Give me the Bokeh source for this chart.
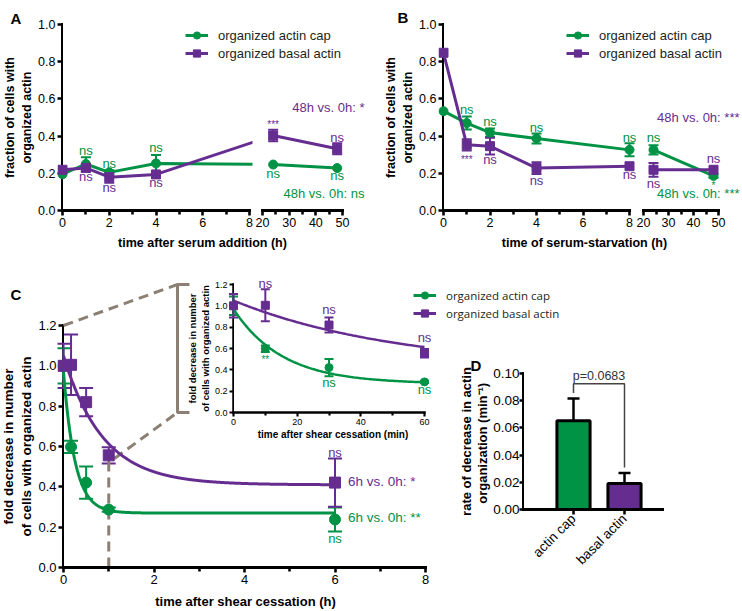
import math
import numpy as np
from bokeh.plotting import figure
from bokeh.layouts import column
from bokeh.models import (Range1d, FixedTicker, NumeralTickFormatter, Whisker, TeeHead,
                          ColumnDataSource, Legend, LegendItem)
from bokeh.embed import file_html
from bokeh.resources import INLINE
from bokeh.core.properties import value

FONT = "Liberation Sans"
LEG_FONT_C = "Open Sans"
GREEN = "#009245"
PURPLE = "#662d91"
GRAY = "#8b8073"

# ---------------- data ----------------
SERIES = ["organized actin cap", "organized basal actin"]

A_TIME = [0, 1, 2, 4, 24, 48]
A_CAP = [0.195, 0.250, 0.205, 0.253, 0.247, 0.228]
A_CAP_ERR = [0.0, 0.036, 0.012, 0.045, 0.0, 0.0]
A_BASAL = [0.219, 0.229, 0.179, 0.194, 0.403, 0.332]
A_BASAL_ERR = [0.0, 0.020, 0.030, 0.015, 0.031, 0.030]
A_CAP_MARKS = [(1, 0.323, "ns"), (2, 0.253, "ns"), (4, 0.339, "ns"), (24, 0.199, "ns"), (48, 0.188, "ns")]
A_BASAL_MARKS = [(1, 0.183, "ns"), (2, 0.122, "ns"), (4, 0.150, "ns"), (24, 0.462, "***"), (48, 0.393, "ns")]
A_SUMMARY = ["48h vs. 0h: ns", "48h vs. 0h: *"]
A_SUMMARY_Y = [0.091, 0.554]
A_X_TITLE = "time after serum addition (h)"

B_TIME = [0, 1, 2, 4, 8, 24, 48]
B_CAP = [0.534, 0.470, 0.419, 0.387, 0.326, 0.326, 0.186]
B_CAP_ERR = [0.0, 0.035, 0.022, 0.027, 0.035, 0.025, 0.010]
B_BASAL = [0.848, 0.353, 0.346, 0.228, 0.238, 0.219, 0.219]
B_BASAL_ERR = [0.0, 0.030, 0.045, 0.032, 0.0, 0.037, 0.0]
B_CAP_MARKS = [(1, 0.541, "ns"), (2, 0.480, "ns"), (4, 0.448, "ns"), (8, 0.391, "ns"), (24, 0.391, "ns"), (48, 0.135, "*")]
B_BASAL_MARKS = [(1, 0.275, "***"), (2, 0.272, "ns"), (4, 0.161, "ns"), (8, 0.194, "ns"), (24, 0.147, "ns"), (48, 0.278, "ns")]
B_SUMMARY = ["48h vs. 0h: ***", "48h vs. 0h: ***"]
B_SUMMARY_Y = [0.093, 0.502]
B_X_TITLE = "time of serum-starvation (h)"

FRACTION_TICKS = [0.0, 0.2, 0.4, 0.6, 0.8, 1.0]
EARLY_TICKS = [0, 2, 4, 6, 8]
EARLY_MINOR = [1, 3, 5, 7]
LATE_TICKS = [20, 30, 40, 50]
LATE_MINOR = [25, 35, 45]
Y_TITLE_AB = "fraction of cells with\norganized actin"

C_TIME_MIN = [0, 10, 30, 60, 360]
C_CAP = [1.0, 0.598, 0.421, 0.287, 0.238]
C_CAP_ERR = [0.087, 0.030, 0.080, 0.010, 0.060]
C_BASAL = [1.0, 1.005, 0.820, 0.556, 0.421]
C_BASAL_ERR = [0.110, 0.150, 0.070, 0.040, 0.120]
C_FIT_Y0 = [0.97, 1.05]
C_FIT_PLATEAU = [0.27, 0.41]
C_MAIN_MARKS = [[(6, 0.144, "ns")], [(6, 0.568, "ns")]]
C_SUMMARY = ["6h vs. 0h: **", "6h vs. 0h: *"]
C_SUMMARY_Y = [0.248, 0.424]
C_INSET_MARKS = [[(10, 0.50, "**"), (30, 0.282, "ns"), (60, 0.22, "ns")],
                 [(10, 1.21, "ns"), (30, 0.962, "ns"), (60, 0.699, "ns")]]
C_TICKS = [0.0, 0.2, 0.4, 0.6, 0.8, 1.0, 1.2]
C_X_TICKS = [0, 2, 4, 6, 8]
C_X_MINOR = [1, 3, 5, 7]
C_INSET_X_TICKS = [0, 20, 40, 60]
C_INSET_X_MINOR = [10, 30, 50]
C_Y_TITLE = "fold decrease in number\nof cells with organized actin"
C_X_TITLE = "time after shear cessation (h)"
C_INSET_X_TITLE = "time after shear cessation (min)"
C_ZOOM_END_H = 1.0
C_ZOOM_TOP = 1.2
C_ZOOM_KNEE = 0.52

D_CATEGORIES = ["actin cap", "basal actin"]
D_RATE = [0.0652, 0.0191]
D_RATE_ERR = [0.0164, 0.0078]
D_P_TEXT = "p=0.0683"
D_TICKS = [0.0, 0.02, 0.04, 0.06, 0.08, 0.10]
D_Y_TITLE = "rate of decrease in actin\norganization  (min\u207b\u00b9)"
D_BRACKET_Y = 0.0925
D_BRACKET_GAP = 0.004

PANEL_LETTERS = ["A", "B", "C", "D"]

COLORS = [GREEN, PURPLE]
MARKERS = ["circle", "square"]


# ---------------- helpers ----------------
def px_to_val(px, m):
    v1, p1, v2, p2 = m
    return v1 + (px - p1) * (v2 - v1) / (p2 - p1)


def val_to_px(v, m):
    v1, p1, v2, p2 = m
    return p1 + (v - v1) * (p2 - p1) / (v2 - v1)


PLACED = []


def make_fig(frame, canvas, xmap, ymap, x_axis=True, y_axis=False):
    fl, ft, fr, fb = frame
    cl, ct, cr, cb = canvas
    p = figure(width=cr - cl, height=cb - ct,
               x_range=Range1d(px_to_val(fl, xmap), px_to_val(fr, xmap)),
               y_range=Range1d(px_to_val(fb, ymap), px_to_val(ft, ymap)),
               min_border_left=fl - cl, min_border_right=cr - fr,
               min_border_top=ft - ct, min_border_bottom=cb - fb,
               x_axis_location="below" if x_axis else None,
               y_axis_location="left" if y_axis else None,
               frame_align=False,
               title=None, output_backend="svg", toolbar_location=None)
    p.background_fill_color = None
    p.border_fill_color = None
    p.outline_line_color = None
    p.grid.visible = False
    p.styles = {"position": "absolute", "left": "%dpx" % cl, "top": "%dpx" % ct}
    PLACED.append(p)
    return p


def style_axes(p, tick_size, title_size, lw=3.0, tick_out=5, minor_out=4):
    for ax in p.axis:
        ax.axis_line_width = lw
        ax.axis_line_color = "black"
        ax.axis_line_cap = "square"
        ax.major_tick_line_width = lw * 0.85
        ax.minor_tick_line_width = lw * 0.85
        ax.major_tick_line_color = "black"
        ax.minor_tick_line_color = "black"
        ax.major_tick_out = tick_out
        ax.major_tick_in = 0
        ax.minor_tick_out = minor_out
        ax.minor_tick_in = 0
        ax.major_label_text_font = FONT
        ax.major_label_text_font_size = tick_size
        ax.major_label_text_color = "black"
        ax.major_label_standoff = 2
        ax.axis_label_text_font = FONT
        ax.axis_label_text_font_style = "bold"
        ax.axis_label_text_font_size = title_size
        ax.axis_label_text_color = "black"
        ax.axis_label_standoff = 1


def y_axis_fig(axis_px, top_px, bottom_px, ymap, border, canvas_top, canvas_bottom, ticks, fmt, title,
               tick_size, title_size, lw=3.0, tick_out=5, line_height=1.2, label_standoff=2, title_standoff=1):
    p = make_fig((axis_px, top_px, axis_px + 1, bottom_px), (axis_px - border, canvas_top, axis_px + 1, canvas_bottom),
                 (0, axis_px, 1, axis_px + 1), ymap, x_axis=False, y_axis=True)
    style_axes(p, tick_size, title_size, lw=lw, tick_out=tick_out)
    p.yaxis.ticker = FixedTicker(ticks=ticks, minor_ticks=[])
    p.yaxis.formatter = NumeralTickFormatter(format=fmt)
    p.yaxis.axis_label = title
    p.yaxis.axis_label_text_line_height = line_height
    p.yaxis.major_label_standoff = label_standoff
    p.yaxis.axis_label_standoff = title_standoff
    return p


def add_err(p, xs, ys, es, color, cap, lw, upper_only=False):
    sel = [(x, y, e) for x, y, e in zip(xs, ys, es) if e > 0]
    if not sel:
        return
    src = ColumnDataSource(dict(
        x=[s[0] for s in sel],
        lo=[s[1] - (0 if upper_only else s[2]) for s in sel],
        hi=[s[1] + s[2] for s in sel]))
    w = Whisker(source=src, base="x", lower="lo", upper="hi",
                line_color=color, line_width=lw,
                upper_head=TeeHead(size=cap, line_color=color, line_width=lw),
                lower_head=None if upper_only else TeeHead(size=cap, line_color=color, line_width=lw))
    p.add_layout(w)


def add_text(p, xs, ys, texts, color, size, align="center", baseline="middle", font=FONT, style="normal",
             x_offset=0, y_offset=0):
    p.text(x=list(xs), y=list(ys), text=list(texts), text_color=color, text_font=value(font),
           text_font_size=size, text_align=align, text_baseline=baseline, text_font_style=style,
           x_offset=x_offset, y_offset=y_offset)


def add_marks(p, items, color, keep, ns_size="13px", star_size="10px"):
    ns = [i for i in items if keep(i[0]) and "*" not in i[2]]
    st = [i for i in items if keep(i[0]) and "*" in i[2]]
    if ns:
        add_text(p, [i[0] for i in ns], [i[1] for i in ns], [i[2] for i in ns], color, ns_size)
    if st:
        add_text(p, [i[0] for i in st], [i[1] for i in st], [i[2] for i in st], color, star_size)


def make_legend(items, font, size, location):
    return Legend(items=[LegendItem(label=lab, renderers=rs) for lab, rs in items],
                  location=location, margin=2, padding=0, spacing=0,
                  glyph_width=23, glyph_height=18, label_height=18, label_standoff=10,
                  label_text_font=font, label_text_font_size=size, label_text_color="#231f20",
                  border_line_color=None, background_fill_color=None)


def draw_series(p, xs, ys, es, color, marker, size, lw, cap, keep, bridge=None):
    pts = [(x, y, e) for x, y, e in zip(xs, ys, es) if keep(x)]
    lx = [q[0] for q in pts]
    ly = [q[1] for q in pts]
    if bridge is not None:
        lx.append(bridge[0])
        ly.append(bridge[1])
    lr = p.line(lx, ly, line_color=color, line_width=lw)
    add_err(p, [q[0] for q in pts], [q[1] for q in pts], [q[2] for q in pts], color, cap, 2)
    sr = p.scatter([q[0] for q in pts], [q[1] for q in pts], marker=marker, size=size,
                   fill_color=color, line_color=color)
    return lr, sr


# ---------------- panels A and B (broken x axis) ----------------
def broken_panel(time, series, errs, marks, summary, summary_y, axis_px, left_frame, xmap_l,
                 right_frame, xmap_r, ymap, summary_x, connect, canvas_bottom):
    early = lambda x: x <= 8
    late = lambda x: x >= 20
    fl, ft, fr, fb = left_frame
    rl, rt, rr, rb = right_frame
    y_axis_fig(axis_px, ft, fb, ymap, 70, 0, canvas_bottom, FRACTION_TICKS, "0.0", Y_TITLE_AB,
               "12.5px", "12.5px")
    pl = make_fig(left_frame, (fl, ft, fr + 4, canvas_bottom), xmap_l, ymap)
    pr = make_fig(right_frame, (rl, rt, rr, canvas_bottom), xmap_r, ymap)
    style_axes(pl, "12.5px", "12.5px")
    style_axes(pr, "12.5px", "12.5px")
    pl.xaxis.ticker = FixedTicker(ticks=EARLY_TICKS, minor_ticks=EARLY_MINOR)
    pl.xaxis.bounds = (0, 8)
    pr.xaxis.ticker = FixedTicker(ticks=LATE_TICKS, minor_ticks=LATE_MINOR)
    pr.xaxis.bounds = (20, 50)
    items = []
    for k in range(2):
        ys, es = series[k], errs[k]
        bridge = None
        if connect:
            first_late = [i for i, x in enumerate(time) if late(x)][0]
            bx = px_to_val(val_to_px(time[first_late], xmap_r), xmap_l)
            bridge = (bx, ys[first_late])
        draw_series(pl, time, ys, es, COLORS[k], MARKERS[k], 9, 3, 10, early, bridge)
        lr, sr = draw_series(pr, time, ys, es, COLORS[k], MARKERS[k], 9, 3, 10, late)
        items.append((SERIES[k], [lr, sr]))
        add_marks(pl, marks[k], COLORS[k], early)
        add_marks(pr, marks[k], COLORS[k], late)
        add_text(pr, [summary_x], [summary_y[k]], [summary[k]], COLORS[k], "13px", align="right")
    pr.add_layout(make_legend(items, FONT, "13px", "top_left"))


AY = (0, 210, 1.0, 24)
AX = (0, 62, 8, 249)
AX2 = (20, 262, 50, 342)
broken_panel(A_TIME, [A_CAP, A_BASAL], [A_CAP_ERR, A_BASAL_ERR], [A_CAP_MARKS, A_BASAL_MARKS],
             A_SUMMARY, A_SUMMARY_Y, 62, (57, 24, 252, 210), AX,
             (183, 24, 370, 210), AX2, AY, px_to_val(364, AX2), True, 236)

BX = (0, 443, 8, 629)
BX2 = (20, 643, 50, 718)
broken_panel(B_TIME, [B_CAP, B_BASAL], [B_CAP_ERR, B_BASAL_ERR], [B_CAP_MARKS, B_BASAL_MARKS],
             B_SUMMARY, B_SUMMARY_Y, 443, (438, 24, 636, 210), BX,
             (564, 24, 742, 210), BX2, AY, px_to_val(739, BX2), False, 236)

# ---------------- panel C: inset (minutes) ----------------
D_K = D_RATE  # per-minute rate constants of the one-phase decay fits (panel D)
IX = (0, 233, 60, 424)
IY = (0, 412, 1.2, 284)
y_axis_fig(233, 284, 412, IY, 50, 272, 444, C_TICKS, "0.0", C_Y_TITLE, "9px", "9.5px", lw=2.5, tick_out=4,
           line_height=1.15)
pI = make_fig((228, 272, 437, 412), (228, 272, 441, 444), IX, IY)
style_axes(pI, "9px", "10px", lw=2.5, tick_out=4, minor_out=3)
pI.xaxis.ticker = FixedTicker(ticks=C_INSET_X_TICKS, minor_ticks=C_INSET_X_MINOR)
pI.xaxis.bounds = (0, 60)
pI.xaxis.axis_label = C_INSET_X_TITLE

t_inset = np.linspace(0, 60, 121)
t_main = np.linspace(0, 360, 721)
for k, (ys, es) in enumerate([(C_CAP, C_CAP_ERR), (C_BASAL, C_BASAL_ERR)]):
    fit = C_FIT_PLATEAU[k] + (C_FIT_Y0[k] - C_FIT_PLATEAU[k]) * np.exp(-D_K[k] * t_inset)
    pI.line(t_inset, fit, line_color=COLORS[k], line_width=2.5)
    sel = [i for i, t in enumerate(C_TIME_MIN) if t <= 60]
    add_err(pI, [C_TIME_MIN[i] for i in sel], [ys[i] for i in sel], [es[i] for i in sel], COLORS[k], 9, 2)
    pI.scatter([C_TIME_MIN[i] for i in sel], [ys[i] for i in sel], marker=MARKERS[k], size=8,
               fill_color=COLORS[k], line_color=COLORS[k])
    add_marks(pI, C_INSET_MARKS[k], COLORS[k], lambda x: True)

# ---------------- panel C: main (hours) ----------------
CX = (0, 63, 8, 425)
CY = (0, 567, 1.2, 325)
y_axis_fig(63, 325, 567, CY, 70, 282, 580, C_TICKS, "0.0", C_Y_TITLE, "13px", "13.5px")
pC = make_fig((57, 282, 575, 567), (57, 282, 575, 590), CX, CY)
style_axes(pC, "13px", "13px")
pC.xaxis.ticker = FixedTicker(ticks=C_X_TICKS, minor_ticks=C_X_MINOR)
pC.xaxis.bounds = (0, 8)

# zoom connectors from the main axes to the inset
bx = px_to_val(177, CX)
bx2 = px_to_val(189, CX)
b_top = px_to_val(val_to_px(C_ZOOM_TOP, IY), CY)
b_bot = px_to_val(val_to_px(0, IY), CY)
pC.line([0, bx], [C_ZOOM_TOP, b_top], line_color=GRAY, line_width=3, line_dash="10 6")
pC.line([C_ZOOM_END_H, C_ZOOM_END_H, bx], [0, C_ZOOM_KNEE, b_bot], line_color=GRAY, line_width=3,
        line_dash="10 6")
pC.line([bx2, bx, bx, bx2], [b_top, b_top, b_bot, b_bot], line_color=GRAY, line_width=3)

t_h = [t / 60 for t in C_TIME_MIN]
c_items = []
for k, (ys, es) in enumerate([(C_CAP, C_CAP_ERR), (C_BASAL, C_BASAL_ERR)]):
    fit = C_FIT_PLATEAU[k] + (C_FIT_Y0[k] - C_FIT_PLATEAU[k]) * np.exp(-D_K[k] * t_main)
    lr = pC.line(t_main / 60, fit, line_color=COLORS[k], line_width=3)
    add_err(pC, t_h, ys, es, COLORS[k], 14, 2)
    sr = pC.scatter(t_h, ys, marker=MARKERS[k], size=11, fill_color=COLORS[k], line_color=COLORS[k])
    c_items.append((SERIES[k], [lr, sr]))
    add_marks(pC, C_MAIN_MARKS[k], COLORS[k], lambda x: True)
    add_text(pC, [t_h[-1]], [C_SUMMARY_Y[k]], [C_SUMMARY[k]], COLORS[k], "13.5px", align="left",
             x_offset=13)
# legend: bottom-left corner given in pixels from the frame's bottom-left corner
pC.add_layout(make_legend(c_items, LEG_FONT_C, "11.5px", (413 - 57, 567 - 322)))

# ---------------- panel D ----------------
DX = (1, 573, 2, 624)
DY = (0, 509, 0.1, 373)
y_axis_fig(523, 373, 509, DY, 70, 362, 520, D_TICKS, "0.00", D_Y_TITLE, "13.5px", "13px", tick_out=4,
           line_height=1.05, label_standoff=0, title_standoff=0)
pD = make_fig((523, 360, 662, 509), (523, 360, 680, 592), DX, DY)
style_axes(pD, "13.5px", "13px")
xpos = [i + 1 for i in range(len(D_CATEGORIES))]
pD.vbar(x=xpos, top=D_RATE, bottom=0, width=0.65, fill_color=COLORS, line_color="black", line_width=3)
add_err(pD, xpos, D_RATE, D_RATE_ERR, "black", 12, 2.5, upper_only=True)
pD.line([xpos[0], xpos[0], xpos[1], xpos[1]],
        [D_RATE[0] + D_RATE_ERR[0] + D_BRACKET_GAP, D_BRACKET_Y, D_BRACKET_Y,
         D_RATE[1] + D_RATE_ERR[1] + D_BRACKET_GAP], line_color="#444444", line_width=1.5)
add_text(pD, [(xpos[0] + xpos[1]) / 2], [D_BRACKET_Y], [D_P_TEXT], "#333333", "12.5px",
         baseline="bottom", y_offset=-1)
pD.xaxis.ticker = FixedTicker(ticks=xpos, minor_ticks=[])
pD.xaxis.major_label_overrides = {x: c for x, c in zip(xpos, D_CATEGORIES)}
pD.xaxis.major_label_orientation = math.pi / 4

# ---------------- overlay: panel letters and axis titles spanning several frames ----------------
pO = make_fig((0, 0, 742, 611), (0, 0, 742, 611), (0, 0, 1, 1), (0, 0, 1, 1), x_axis=False, y_axis=False)
add_text(pO, [10, 397, 10, 470], [18, 16.5, 293.5, 364.5], PANEL_LETTERS, "black", "15px", align="left",
         baseline="alphabetic", style="bold")
add_text(pO, [202, 584], [242, 242], [A_X_TITLE, B_X_TITLE], "black", "12.5px", style="bold")
add_text(pO, [245], [601], [C_X_TITLE], "black", "13px", style="bold")

# ---------------- layout (absolute placement inside a fixed-size container) ----------------
layout = column(*PLACED, width=742, height=611, styles={"position": "relative"})
open("out.html", "w").write(file_html(layout, INLINE))
